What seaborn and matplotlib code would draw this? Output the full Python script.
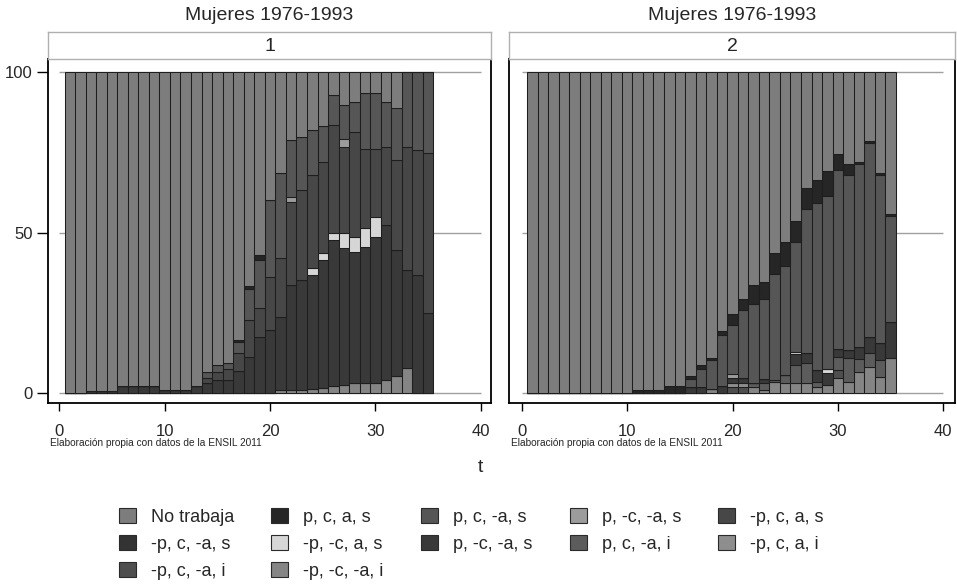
import matplotlib
matplotlib.use("Agg")
import matplotlib.pyplot as plt
from matplotlib.patches import Patch
import numpy as np
import pandas as pd
import seaborn as sns

# ---------------- data ----------------
t_values = list(range(1, 36))

categories = ["No trabaja", "p, c, a, s", "p, c, -a, s", "p, -c, -a, s", "-p, c, a, s",
              "-p, c, -a, s", "-p, -c, a, s", "p, -c, -a, s", "p, c, -a, i", "-p, c, a, i",
              "-p, c, -a, i", "-p, -c, -a, i"]
colors = ["#7d7d7d", "#262626", "#565656", "#9c9c9c", "#474747",
          "#333333", "#d6d6d6", "#393939", "#5c5c5c", "#8e8e8e",
          "#4e4e4e", "#858585"]

panel_titles = ["Mujeres 1976-1993", "Mujeres 1976-1993"]
panel_labels = ["1", "2"]
note_text = "Elaboración propia con datos de la ENSIL 2011"
x_ticks = [0, 10, 20, 30, 40]
y_ticks = [0, 50, 100]

# Panel 1 (percent of each category by t)
m1_no_trabaja = [100, 100, 99.4, 99.4, 99.4, 97.7, 97.7, 97.7, 97.7, 98.8, 98.8, 98.8, 97.7, 93.3, 91.2,
                 90.4, 83.4, 66.5, 56.9, 39.7, 31.2, 21.0, 20.0, 17.9, 16.8, 7.0, 10.1, 9.1, 6.5, 6.5,
                 9.1, 11.1, 0, 0, 0]
m1_p_c_a_s = [0, 0, 0, 0, 0, 0, 0, 0, 0, 0, 0, 0, 0, 0, 0, 0, 0.6, 1.0, 1.6, 0,
              0, 0, 0, 0, 0, 0, 0, 0, 0, 0, 0, 0, 0, 0, 0]
m1_p_c_na_s = [0, 0, 0, 0, 0, 0, 0, 0, 0, 0, 0, 0, 0, 2.0, 2.1, 2.0, 3.3, 9.6, 15.0, 23.9,
               26.7, 17.7, 16.6, 14.0, 11.0, 9.3, 10.6, 9.3, 17.4, 17.4, 14.0, 16.2, 23.3, 24.1, 25.2]
m1_p_nc_na_s = [0, 0, 0, 0, 0, 0, 0, 0, 0, 0, 0, 0, 0, 0, 0, 0, 0, 0, 0, 0,
                0, 1.6, 0, 0, 0, 0, 2.4, 0, 0, 0, 0, 0, 0, 0, 0]
m1_np_c_a_s = [0, 0, 0, 0, 0, 0, 0, 0, 0, 0, 0, 0, 0, 1.6, 2.4, 3.3, 5.7, 11.5, 9.0, 16.7,
               18.2, 25.9, 28.1, 29.1, 28.5, 33.6, 26.8, 32.8, 24.7, 21.0, 24.4, 28.0, 38.3, 39.0, 49.9]
m1_np_c_na_s = [0] * 35
m1_np_nc_a_s = [0, 0, 0, 0, 0, 0, 0, 0, 0, 0, 0, 0, 0, 0, 0, 0, 0, 0, 0, 0,
                0, 0, 0, 2.1, 2.1, 2.3, 4.9, 4.8, 5.7, 6.3, 0, 0, 0, 0, 0]
m1_p_nc_na_s_b = [0, 0, 0.6, 0.6, 0.6, 2.3, 2.3, 2.3, 2.3, 1.2, 1.2, 1.2, 2.3, 3.1, 4.3, 4.3, 7.0, 11.4,
                  17.5, 19.7, 22.9, 32.8, 34.1, 35.4, 39.8, 45.5, 42.7, 40.9, 42.6, 45.7, 48.3, 39.3,
                  30.6, 36.9, 24.9]
m1_p_c_na_i = [0] * 35
m1_np_c_a_i = [0] * 35
m1_np_c_na_i = [0] * 35
m1_np_nc_na_i = [0, 0, 0, 0, 0, 0, 0, 0, 0, 0, 0, 0, 0, 0, 0, 0, 0, 0, 0, 0,
                 1.0, 1.0, 1.2, 1.5, 1.8, 2.3, 2.5, 3.1, 3.1, 3.1, 4.2, 5.4, 7.8, 0, 0]

# Panel 2
m2_no_trabaja = [100, 100, 100, 100, 100, 100, 100, 100, 100, 100, 99.0, 99.0, 99.0, 97.6, 97.6,
                 94.6, 91.2, 88.9, 80.7, 75.4, 70.5, 66.1, 65.3, 56.1, 52.9, 46.2, 35.9, 33.4, 30.7,
                 25.3, 28.6, 28.0, 21.5, 31.3, 44.1]
m2_p_c_a_s = [0, 0, 0, 0, 0, 0, 0, 0, 0, 0, 1.0, 1.0, 1.0, 2.4, 2.4, 1.0, 1.2, 0.8, 1.2, 3.3,
              3.6, 5.9, 5.2, 6.7, 7.3, 6.5, 6.5, 7.3, 7.9, 5.2, 3.4, 0.5, 0.5, 0.5, 0.5]
m2_p_c_na_s = [0, 0, 0, 0, 0, 0, 0, 0, 0, 0, 0, 0, 0, 0, 0, 2.5, 5.7, 8.8, 15.8, 15.3,
               21.2, 24.9, 25.1, 33.0, 34.1, 34.3, 45.1, 52.0, 53.9, 55.7, 54.5, 57.2, 60.5, 52.6, 33.1]
m2_p_nc_na_s = [0, 0, 0, 0, 0, 0, 0, 0, 0, 0, 0, 0, 0, 0, 0, 0, 0, 0, 0, 1.3,
                0, 0, 0, 0, 0, 0, 0, 0, 0, 0, 0, 0, 0, 0, 0]
m2_np_c_a_s = [0] * 35
m2_np_c_na_s = [0] * 35
m2_np_nc_a_s = [0, 0, 0, 0, 0, 0, 0, 0, 0, 0, 0, 0, 0, 0, 0, 0, 0, 0, 0, 0,
                0, 0, 0, 0, 0, 0.8, 0, 0, 1.3, 0, 0, 0, 0, 0, 0]
m2_p_nc_na_s_b = [0, 0, 0, 0, 0, 0, 0, 0, 0, 0, 0, 0, 0, 0, 0, 1.9, 1.9, 0, 2.3, 1.6,
                  1.6, 0, 1.3, 0, 0, 3.4, 3.1, 3.7, 3.6, 2.4, 2.6, 3.7, 5.0, 5.2, 11.4]
m2_p_c_na_i = [0, 0, 0, 0, 0, 0, 0, 0, 0, 0, 0, 0, 0, 0, 0, 0, 0, 0, 0, 0,
               0, 1.1, 2.1, 0.6, 2.6, 5.7, 6.3, 1.5, 0, 4.1, 7.3, 3.8, 4.2, 5.2, 0]
m2_np_c_a_i = [0, 0, 0, 0, 0, 0, 0, 0, 0, 0, 0, 0, 0, 0, 0, 0, 0, 0, 0, 1.2,
               1.2, 0, 0, 0, 0, 0, 0, 0, 0, 0, 0, 0, 0, 0, 0]
m2_np_c_na_i = [0, 0, 0, 0, 0, 0, 0, 0, 0, 0, 0, 0, 0, 0, 0, 0, 0, 0, 0, 1.9,
                1.9, 0, 0, 0, 0, 0, 0, 0, 0, 2.6, 0, 0, 0, 0, 0]
m2_np_nc_na_i = [0, 0, 0, 0, 0, 0, 0, 0, 0, 0, 0, 0, 0, 0, 0, 0, 0, 1.5, 0, 0,
                 0, 2.0, 1.0, 3.6, 3.1, 3.1, 3.1, 2.1, 2.6, 4.7, 3.6, 6.8, 8.3, 5.2, 10.9]

panel1 = [m1_no_trabaja, m1_p_c_a_s, m1_p_c_na_s, m1_p_nc_na_s, m1_np_c_a_s, m1_np_c_na_s,
          m1_np_nc_a_s, m1_p_nc_na_s_b, m1_p_c_na_i, m1_np_c_a_i, m1_np_c_na_i, m1_np_nc_na_i]
panel2 = [m2_no_trabaja, m2_p_c_a_s, m2_p_c_na_s, m2_p_nc_na_s, m2_np_c_a_s, m2_np_c_na_s,
          m2_np_nc_a_s, m2_p_nc_na_s_b, m2_p_c_na_i, m2_np_c_a_i, m2_np_c_na_i, m2_np_nc_na_i]

# ---------------- style ----------------
sns.set_style("white")
plt.rcParams["font.family"] = ["Liberation Sans", "DejaVu Sans"]

W, H = 957, 585
fig = plt.figure(figsize=(W / 100, H / 100), dpi=100)


def fx(px):
    return px / W


def fy(py):
    return 1 - py / H


keys = [f"{i:02d} {c}" for i, c in enumerate(categories)]
palette = dict(zip(keys, colors))

layout = [
    dict(series=panel1, left=48, right=491, xlim=(-1.07, 40.96), show_y=True),
    dict(series=panel2, left=509, right=955, xlim=(-1.205, 41.11), show_y=False),
]
frame_top, frame_bottom = 59, 403

for k, spec in enumerate(layout):
    left, right = spec["left"], spec["right"]
    ax = fig.add_axes([fx(left), fy(frame_bottom), (right - left) / W, (frame_bottom - frame_top) / H])

    rows = []
    for key, vals in zip(keys, spec["series"]):
        for tv, v in zip(t_values, vals):
            rows.append((tv, key, v))
    df = pd.DataFrame(rows, columns=["t", "cat", "pct"])

    ax.hlines(y_ticks, 0, 40, colors="#a0a0a0", linewidth=1.0, zorder=0)
    sns.histplot(data=df, x="t", weights="pct", hue="cat", hue_order=keys, palette=palette,
                 multiple="stack", discrete=True, shrink=1, alpha=1,
                 edgecolor="#1e1e1e", linewidth=0.75, legend=False, ax=ax)

    ax.set_xlim(*spec["xlim"])
    ax.set_ylim(-3.0, 104.2)
    ax.set_xlabel("")
    ax.set_ylabel("")
    ax.set_xticks(x_ticks)
    ax.tick_params(axis="x", bottom=True, direction="out", length=6, width=1, pad=9,
                   labelsize=12, color="black")
    if spec["show_y"]:
        ax.set_yticks(y_ticks)
        ax.tick_params(axis="y", left=True, direction="out", length=8, width=1, pad=3,
                       labelsize=12, color="black")
    else:
        ax.set_yticks([])
    for s in ax.spines.values():
        s.set_color("black")
        s.set_linewidth(1.3)
    ax.grid(False)

    # strip header
    sax = fig.add_axes([fx(left), fy(frame_top), (right - left) / W, (frame_top - 32) / H])
    sax.set_xticks([])
    sax.set_yticks([])
    for s in sax.spines.values():
        s.set_color("#b0b0b0")
        s.set_linewidth(1.0)
    sax.text(0.5, 0.45, panel_labels[k], ha="center", va="center", fontsize=14,
             transform=sax.transAxes)

    # title
    fig.text(fx((left + right) / 2), fy(16), panel_titles[k], ha="center", va="center", fontsize=14)
    # note
    fig.text(fx(left + 2), fy(443), note_text, ha="left", va="center", fontsize=7.3)

fig.text(fx(480), fy(468), "t", ha="center", va="center", fontsize=14)

# legend (5 columns, filled row-wise)
handles = [Patch(facecolor=c, edgecolor="#2a2a2a", linewidth=0.8) for c in colors]
col_x = [119, 271, 421, 570, 718]
for col in range(5):
    idx = [i for i in range(len(categories)) if i % 5 == col]
    fig.legend([handles[i] for i in idx], [categories[i] for i in idx],
               loc="upper left", bbox_to_anchor=(fx(col_x[col]), fy(508)),
               frameon=False, fontsize=13, handlelength=0.94, handleheight=0.94,
               handletextpad=0.85, labelspacing=0.5, borderpad=0, borderaxespad=0)

fig.savefig("out.png", dpi=100)
